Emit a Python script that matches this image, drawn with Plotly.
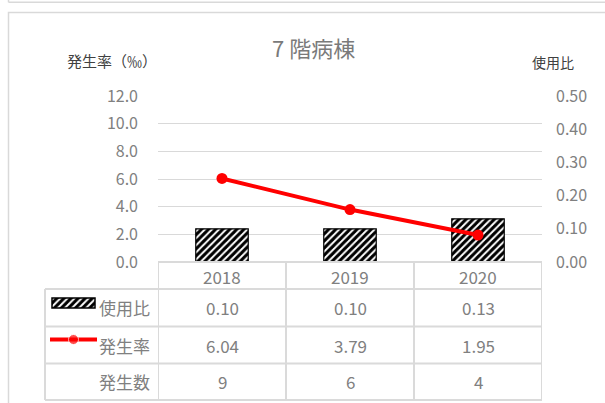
import plotly.graph_objects as go

# ---- data ----
years = ["2018", "2019", "2020"]
usage_ratio = [0.10, 0.10, 0.13]          # 使用比 (right axis, bars)
incidence_rate = [6.04, 3.79, 1.95]       # 発生率 ‰ (left axis, line)
incidence_count = [9, 6, 4]               # 発生数 (table only)
left_ticks = [0, 2, 4, 6, 8, 10, 12]
right_ticks = [0.0, 0.1, 0.2, 0.3, 0.4, 0.5]
row_labels = ["使用比", "発生率", "発生数"]

# ---- page geometry (pixels) ----
W, H = 605, 403
FONT = "Noto Sans CJK JP"
GRAY = "#808080"
LINE = "#d9d9d9"


def px(x):
    return x / W


def py(y):
    return 1 - y / H


PLOT_L, PLOT_R, PLOT_T, PLOT_B = 158, 542, 96, 262
TABLE_L = 45
ROW_EDGES = [262, 289, 326.5, 363.5, 400]

hatch = dict(shape="/", fgcolor="black", bgcolor="white", size=5, solidity=0.6)

fig = go.Figure()

# bars: usage ratio on the right-hand axis
fig.add_trace(go.Bar(
    x=years, y=usage_ratio, xaxis="x", yaxis="y",
    width=0.41,
    marker=dict(color="white", line=dict(color="black", width=1.2), pattern=hatch),
    hoverinfo="skip", showlegend=False,
))

# line: incidence rate on the left-hand axis (overlay, drawn above bars)
fig.add_trace(go.Scatter(
    x=years, y=incidence_rate, xaxis="x", yaxis="y2",
    mode="lines+markers",
    line=dict(color="#ff0000", width=4),
    marker=dict(color="#ff0000", size=11),
    hoverinfo="skip", showlegend=False,
))

# legend keys inside the data table (pixel-unit helper axes)
fig.add_trace(go.Bar(
    y=[303], x=[43], base=[52], orientation="h", width=10,
    xaxis="x3", yaxis="y3",
    marker=dict(color="white", line=dict(color="black", width=1.5), pattern=hatch),
    hoverinfo="skip", showlegend=False,
))
fig.add_trace(go.Scatter(
    x=[50, 73.5, 97], y=[339.5, 339.5, 339.5], xaxis="x3", yaxis="y3",
    mode="lines+markers",
    line=dict(color="#ff0000", width=4),
    marker=dict(color="#ff0000", size=[0, 10, 0]),
    hoverinfo="skip", showlegend=False,
))

shapes = []
# chart frames
shapes.append(dict(type="line", xref="paper", yref="paper",
                   x0=px(8.5), x1=px(640), y0=py(2.3), y1=py(2.3),
                   line=dict(color=LINE, width=1.5)))
shapes.append(dict(type="line", xref="paper", yref="paper",
                   x0=px(8.5), x1=px(8.5), y0=py(-5), y1=py(2.3),
                   line=dict(color=LINE, width=1.5)))
shapes.append(dict(type="rect", xref="paper", yref="paper",
                   x0=px(8.5), x1=px(640), y0=py(440), y1=py(12.5),
                   line=dict(color=LINE, width=1.5)))

# data table grid
TCOL = "#dadada"
for i in range(len(years) + 1):
    shapes.append(dict(type="line", xref="x", yref="paper",
                       x0=i - 0.5, x1=i - 0.5, y0=py(ROW_EDGES[0]), y1=py(ROW_EDGES[-1]),
                       line=dict(color=TCOL, width=2)))
shapes.append(dict(type="line", xref="paper", yref="paper",
                   x0=px(TABLE_L), x1=px(TABLE_L), y0=py(ROW_EDGES[1]), y1=py(ROW_EDGES[-1]),
                   line=dict(color=TCOL, width=2)))
shapes.append(dict(type="line", xref="paper", yref="paper",
                   x0=px(PLOT_L), x1=px(PLOT_R), y0=py(ROW_EDGES[0]), y1=py(ROW_EDGES[0]),
                   line=dict(color=TCOL, width=2)))
for e in ROW_EDGES[1:]:
    shapes.append(dict(type="line", xref="paper", yref="paper",
                       x0=px(TABLE_L), x1=px(PLOT_R), y0=py(e), y1=py(e),
                       line=dict(color=TCOL, width=2)))

annotations = []


def note(text, x, y, size, color=GRAY, xref="paper", xanchor="center"):
    annotations.append(dict(text=text, x=x, y=y, xref=xref, yref="paper",
                            xanchor=xanchor, yanchor="middle", showarrow=False,
                            font=dict(family=FONT, size=size, color=color)))


# title and axis titles
note("7 階病棟", px(313), py(47.5), 22, color="#7a7a7a")
note("発生率（‰）", px(111.5), py(61), 15, color="#404040")
note("使用比", px(552.5), py(62), 14, color="#404040")

# table contents
row_mid = [(ROW_EDGES[k] + ROW_EDGES[k + 1]) / 2 for k in range(4)]
table_rows = [
    [f"{v:.2f}" for v in usage_ratio],
    [f"{v:.2f}" for v in incidence_rate],
    [str(v) for v in incidence_count],
]
for j, yr in enumerate(years):
    note(yr, j, py(row_mid[0] + 1), 17, xref="x")
    for r, vals in enumerate(table_rows):
        note(vals[j], j, py(row_mid[r + 1]), 17, xref="x")
for r, lab in enumerate(row_labels):
    note(lab, px(152), py(row_mid[r + 1]), 17, xanchor="right")

fig.update_layout(
    template="none",
    width=W, height=H,
    margin=dict(l=0, r=0, t=0, b=0, pad=0, autoexpand=False),
    paper_bgcolor="white", plot_bgcolor="rgba(0,0,0,0)",
    barmode="overlay",
    showlegend=False,
    font=dict(family=FONT, color=GRAY),
    xaxis=dict(type="category", range=[-0.5, 2.5], domain=[px(PLOT_L), px(PLOT_R)],
               showticklabels=False, showgrid=False, showline=False, zeroline=False,
               ticks="", automargin=False, fixedrange=True),
    yaxis=dict(domain=[py(PLOT_B), py(PLOT_T)], range=[0, 0.5], side="right",
               tickvals=right_ticks, tickformat=".2f", ticks="",
               ticklabelstandoff=13, showgrid=False, zeroline=False, showline=False,
               automargin=False,
               tickfont=dict(family=FONT, size=16, color=GRAY), fixedrange=True),
    yaxis2=dict(overlaying="y", anchor="x", side="left", range=[0, 12],
                tickvals=left_ticks, tickformat=".1f", ticklabelstandoff=19, ticks="",
                showgrid=True, gridcolor=LINE, gridwidth=1,
                zeroline=False, showline=False, automargin=False,
                tickfont=dict(family=FONT, size=16, color=GRAY), fixedrange=True),
    xaxis3=dict(domain=[px(TABLE_L), px(PLOT_L)], range=[TABLE_L, PLOT_L], anchor="y3",
                visible=False, automargin=False, fixedrange=True),
    yaxis3=dict(domain=[py(ROW_EDGES[-1]), py(ROW_EDGES[1])],
                range=[ROW_EDGES[-1], ROW_EDGES[1]], anchor="x3",
                visible=False, automargin=False, fixedrange=True),
    shapes=shapes,
    annotations=annotations,
)

fig.write_html("out.html")
